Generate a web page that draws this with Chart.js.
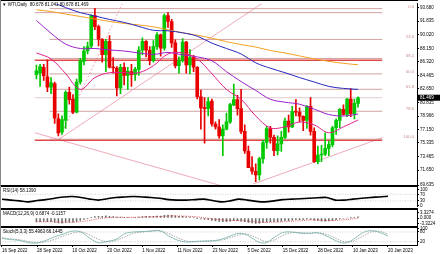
<!DOCTYPE html>
<html><head><meta charset="utf-8">
<script src="https://cdn.jsdelivr.net/npm/chart.js@4.4.0/dist/chart.umd.min.js"></script>
<style>
html,body{margin:0;padding:0;background:#fff;}
#wrap{position:relative;width:440px;height:254px;overflow:hidden;background:#fff;}
canvas{position:absolute;left:0;}
.sep{position:absolute;left:0;width:418px;background:#000;}
</style></head><body>
<div id="wrap">
<canvas id="cPrice" width="440" height="191" style="top:0px"></canvas>
<canvas id="cRsi" width="440" height="27" style="top:183px"></canvas>
<canvas id="cMacd" width="440" height="22" style="top:207px"></canvas>
<canvas id="cStoch" width="440" height="29" style="top:225px"></canvas>
<div class="sep" style="top:0px;height:1px;"></div>
<div class="sep" style="top:185px;height:1.5px;"></div>
<div class="sep" style="top:208px;height:1.5px;"></div>
<div class="sep" style="top:226px;height:1.5px;"></div>
<div class="sep" style="top:245px;height:1px;"></div>
<div style="position:absolute;left:0;top:0;width:1px;height:246px;background:#888;"></div>
</div>
<script>
// ---------------- DATA ----------------
const dateLabels = ['16 Sep 2022','28 Sep 2022','10 Oct 2022','20 Oct 2022','1 Nov 2022','11 Nov 2022','23 Nov 2022','5 Dec 2022','15 Dec 2022','28 Dec 2022','10 Jan 2023','20 Jan 2023'];
const dateTickBars = [0,8,16,24,32,40,48,56,64,72,80,88];

const openP  = [84.6,84.8,85.6,84.3,82.9,83.4,78.6,76.8,78.4,82.2,81.3,79.5,83.6,86.4,87.8,88.5,92.6,91.1,89.4,87.3,89.1,85.6,85.5,82.8,85.6,84.5,85.0,84.6,85.3,87.9,89.1,87.9,86.5,88.4,90.0,88.2,92.6,91.8,88.9,85.8,86.5,89.0,85.9,86.9,85.6,81.6,80.1,80.0,81.0,77.9,77.5,76.3,77.2,78.2,80.5,81.2,80.0,76.9,74.2,72.0,71.5,71.0,73.2,75.4,77.3,76.1,74.3,75.2,76.1,78.3,77.5,79.6,79.5,78.96,78.4,80.3,76.9,72.8,73.7,73.8,74.6,75.1,77.4,78.4,79.9,79.2,81.3,79.3,80.7];
const highP  = [85.9,86.0,86.0,86.6,84.2,83.6,79.3,79.0,82.4,82.9,81.9,84.0,86.8,88.4,89.0,92.7,93.6,91.3,89.5,89.4,89.9,86.9,85.7,86.0,86.2,85.6,86.0,85.6,88.4,89.6,89.2,88.4,89.2,90.3,90.1,92.8,93.0,92.1,89.3,87.0,89.5,89.1,88.0,87.2,85.7,82.5,81.5,81.5,81.3,78.2,78.5,77.8,79.4,80.7,83.3,81.8,82.6,77.8,74.9,73.5,72.5,73.4,75.7,77.6,77.6,76.4,76.3,76.9,78.7,79.1,80.3,81.2,80.1,79.0,80.4,81.5,77.4,74.9,75.0,76.7,75.6,77.6,78.6,80.0,80.5,81.4,82.7,81.3,81.6];
const lowP   = [84.0,83.0,83.8,82.3,82.0,78.0,76.3,76.5,77.3,80.6,79.3,79.4,83.3,85.9,87.4,88.2,90.7,88.5,86.3,85.0,85.5,84.8,81.7,82.0,83.2,82.6,83.0,83.8,84.5,87.3,87.0,85.9,86.3,88.0,87.1,87.9,91.0,88.3,85.5,84.8,86.3,84.8,84.7,85.0,81.3,77.2,75.3,79.0,77.6,77.2,76.0,73.6,77.1,78.0,80.4,79.1,76.6,73.9,72.1,71.1,70.1,70.3,72.6,74.6,75.3,73.6,73.7,74.2,75.9,76.8,77.4,79.0,78.2,77.0,77.3,76.4,72.7,72.5,72.8,73.6,73.6,74.8,76.5,77.4,79.1,78.9,78.9,78.6,80.2];
const closeP = [85.1,85.7,84.45,82.9,83.5,78.7,76.7,78.5,82.2,81.2,79.5,83.6,86.5,87.8,88.4,92.6,91.1,89.4,87.3,89.1,85.6,85.5,82.8,85.6,84.5,85.05,84.6,85.3,87.9,89.1,87.9,86.5,88.4,90.0,88.2,92.6,91.8,88.9,85.8,86.5,89.0,85.9,86.9,85.6,81.6,80.1,80.0,80.95,77.9,77.5,76.3,77.2,78.2,80.55,81.2,80.0,76.9,74.25,72.0,71.5,71.0,73.2,75.4,77.3,76.1,74.3,75.2,76.1,78.3,77.5,79.6,79.5,78.96,78.4,80.26,76.9,72.8,73.7,73.8,74.6,75.1,77.4,78.4,79.9,79.2,81.3,79.3,80.7,81.469];

// moving averages read every 4 bars
const maBars    = [0,4,8,12,16,20,24,28,32,36,40,44,48,52,56,60,64,68,72,76,80,84,88];
const maOrange  = [93.39,93.15,92.81,92.48,92.14,91.81,91.54,91.34,91.08,90.67,90.27,89.94,89.54,89.07,88.67,88.34,87.87,87.54,87.13,86.73,86.40,86.13,85.93];
const maBlue    = [95.0,94.48,93.68,93.01,92.55,92.08,91.68,91.14,90.61,90.54,90.27,89.81,88.87,88.14,87.40,86.20,85.47,84.86,84.20,83.60,83.00,82.73,82.59];
const maPurple  = [91.94,90.21,88.74,88.14,88.14,87.94,87.80,87.54,87.34,87.60,87.27,87.00,86.47,85.00,83.66,82.46,81.26,80.86,80.59,79.92,79.19,78.99,79.25];
const maMagenta = [87.54,86.73,84.73,82.59,84.20,84.86,84.86,84.86,85.80,87.40,87.54,86.73,84.73,82.59,81.26,78.99,77.38,77.52,78.18,77.78,76.72,77.52,78.45];

// Fibonacci retracement
const fibStartBar = 3.6;
const fibLabels = ['0.0','23.6','38.2','50.0','61.8','78.6','100.0'];
const fibPrices = [93.55,89.37,86.79,84.70,82.61,79.63,75.85];
// horizontal lines
const redLevels  = [86.55,75.70];
const thinLevels = [93.00];
const lastPrice  = 81.469;
// trend lines [bar, price] pairs
const trendUp1   = [[6.2,75.85],[62,94.35]];
const trendSteep = [[6.2,75.85],[23.6,94.35]];
const trendDown  = [[-0.46,76.72],[57,68.63]];
const trendUp2   = [[59.3,69.77],[94.62,76.05]];

const priceTicks = [93.680,91.835,90.020,88.150,86.320,84.465,82.650,80.835,78.966,77.150,75.335,73.465,71.650,69.635];
const priceTickLabels = ['93.680','91.835','90.020','88.150','86.320','84.465','82.650','80.835','78.966','77.150','75.335','73.465','71.650','69.635'];

// RSI(14), every 2 bars
const oscBars = [0,2,4,6,8,10,12,14,16,18,20,22,24,26,28,30,32,34,36,38,40,42,44,46,48,50,52,54,56,58,60,62,64,66,68,70,72,74,76,78,80,82,84,86,88];
const rsiVals = [40.5,35,30,24,32,38,46,54,57,51,41,35,43,51,54,57,54,51,46,38,35,35,38,41,32,24,30,41,35,27,24,30,38,41,43,46,49,51,35,35,41,46,51,54,58.139];
const rsiLevels = [70,30];
const rsiTicks = [100,70,30,0];

// MACD(12,26,9) per bar
const macdMain = [-2.4,-2.2,-2.1,-2.2,-2.2,-2.7,-3.1,-3.2,-2.8,-2.6,-2.6,
 -2.1,-1.5,-0.9,-0.4,0.4,0.9,1.1,1.1,1.3,1.0,
 0.8,0.5,0.5,0.4,0.4,0.3,0.4,0.6,0.9,1.0,0.9,
 1.0,1.2,1.2,1.6,1.8,1.7,1.3,1.0,1.0,
 0.7,0.6,0.4,-0.1,-0.6,-0.9,-1.1,-1.5,-1.8,-2.1,
 -2.2,-2.2,-2.0,-1.7,-1.6,-1.9,-2.3,-2.8,-3.1,-3.3,
 -3.2,-2.9,-2.5,-2.3,-2.3,-2.2,-2.0,-1.7,-1.6,-1.3,
 -1.1,-1.0,-0.9,-0.7,-0.9,-1.4,-1.7,-1.9,-1.9,-1.8,
 -1.5,-1.1,-0.6,-0.3,0.0,0.1,0.4,0.6874];
const macdSignal = [-2.3,-2.3,-2.3,-2.3,-2.3,-2.4,-2.5,-2.6,-2.6,-2.6,-2.6,
 -2.5,-2.3,-2.0,-1.7,-1.3,-0.9,-0.5,-0.2,0.1,0.3,
 0.4,0.4,0.4,0.4,0.4,0.4,0.4,0.5,0.6,0.7,0.8,
 0.8,0.9,0.9,1.0,1.2,1.3,1.3,1.2,1.2,
 1.1,1.0,0.9,0.7,0.4,0.1,-0.2,-0.5,-0.7,-1.0,
 -1.2,-1.4,-1.5,-1.6,-1.6,-1.6,-1.8,-2.0,-2.2,-2.4,
 -2.6,-2.7,-2.7,-2.6,-2.6,-2.5,-2.4,-2.3,-2.2,-2.0,
 -1.8,-1.7,-1.5,-1.3,-1.2,-1.2,-1.3,-1.4,-1.5,-1.6,
 -1.6,-1.5,-1.3,-1.1,-0.9,-0.7,-0.4,-0.1157];
const macdTicks = [3.3274,0,-3.3224];
const macdTickLabels = ['3.3274','0.000','-3.3224'];

// Stochastic(5,3,3), every 2 bars
const stochMain = [40,33,28,14,12,28,50,68,85,80,42,14,22,35,70,80,82,86,88,55,30,18,22,24,26,35,55,72,60,25,12,45,76,80,72,72,75,55,28,12,32,72,88,78,55.4963];
const stochSignal = [45,38,32,22,15,20,35,55,72,80,62,35,20,28,50,72,80,84,86,70,45,25,20,23,25,30,45,62,66,45,22,30,58,76,76,72,74,65,42,20,22,50,78,84,66.1445];
const stochLevels = [80,20];
const stochTicks = [100,80,20];

// ---------------- RENDER ----------------
const X_MIN = -0.456, X_MAX = 94.62;
const FONT = {family:'Liberation Sans, Arial, sans-serif', size:4.5};
const GREEN = '#00c800', RED = '#e80000';
const FIBC = '#c58a8a';
const idx = openP.map((_, i) => i);
const upColor = (i) => closeP[i] >= openP[i] ? GREEN : RED;

function textPlugin(items){
  return { id:'txt'+Math.random(), afterDraw(chart){
    const ctx = chart.ctx; ctx.save();
    items.forEach(it => {
      const t = typeof it === 'function' ? it(chart) : it;
      if (t.box){ ctx.fillStyle = t.box; ctx.fillRect(t.bx, t.by, t.bw, t.bh); }
      ctx.font = (t.size||4.5) + 'px ' + FONT.family;
      ctx.fillStyle = t.color || '#000';
      ctx.textAlign = t.align || 'left';
      ctx.textBaseline = 'middle';
      ctx.fillText(t.text, t.x, t.y);
    });
    ctx.restore();
  }};
}
function yAxis(min, max, ticks, labels, extra){
  return Object.assign({
    type:'linear', position:'right', min, max,
    afterFit(s){ s.width = 23; },
    afterBuildTicks(s){ s.ticks = ticks.map(v => ({value:v})); },
    border:{display:true, color:'#000', width:1},
    grid:{display:true, drawOnChartArea:false, drawTicks:true, tickLength:2, color:'#000'},
    ticks:{font:FONT, color:'#000', padding:1, autoSkip:false,
      callback:(v, i) => labels ? labels[i] : String(v)}
  }, extra||{});
}
function xAxis(show){
  const a = {type:'linear', min:X_MIN, max:X_MAX, display:show};
  if (show){
    Object.assign(a, {
      position:'bottom',
      afterFit(s){ s.height = 9; },
      afterBuildTicks(s){ s.ticks = dateTickBars.map(v => ({value:v})); },
      border:{display:true, color:'#000', width:1},
      grid:{display:true, drawOnChartArea:false, drawTicks:true, tickLength:2, color:'#000'},
      ticks:{font:FONT, color:'#000', padding:1, autoSkip:false, maxRotation:0, align:'start',
        callback:(v) => { const k = dateTickBars.indexOf(v); return k >= 0 ? dateLabels[k] : ''; }}
    });
  }
  return a;
}
const line = (data, color, width, dash, extra) => Object.assign({
  type:'line', data, borderColor:color, borderWidth:width, borderDash:dash||[],
  pointRadius:0, fill:false, tension:0
}, extra||{});
const pts2 = (pairs) => pairs.map(p => ({x:p[0], y:p[1]}));
const common = (padTop, padBottom) => ({
  responsive:false, animation:false, devicePixelRatio:1, events:[],
  layout:{padding:{top:padTop, bottom:padBottom, left:0, right:0}},
  plugins:{legend:{display:false}, tooltip:{enabled:false}}
});

// price chart
const priceDatasets = [
  line(maBars.map((b,i)=>({x:b,y:maMagenta[i]})), '#e0208c', 1, [], {tension:0.35}),
  line(maBars.map((b,i)=>({x:b,y:maPurple[i]})), '#9a20c8', 1, [], {tension:0.35}),
  line(maBars.map((b,i)=>({x:b,y:maBlue[i]})), '#2828c0', 1, [], {tension:0.35}),
  line(maBars.map((b,i)=>({x:b,y:maOrange[i]})), '#f5a020', 1, [], {tension:0.35}),
  {type:'bar', data: idx.map(i => ({x:i, y:[openP[i], closeP[i]]})), grouped:false,
   barThickness:3, maxBarThickness:3, minBarLength:1, borderWidth:0,
   backgroundColor: c => upColor(c.dataIndex)},
  {type:'bar', data: idx.map(i => ({x:i, y:[lowP[i], highP[i]]})), grouped:false,
   barThickness:1, maxBarThickness:1, borderWidth:0,
   backgroundColor: c => upColor(c.dataIndex)},
];
fibPrices.forEach(p => priceDatasets.push(line([{x:fibStartBar,y:p},{x:X_MAX,y:p}], FIBC, 0.8)));
redLevels.forEach(p => priceDatasets.push(line([{x:X_MIN,y:p},{x:X_MAX,y:p}], '#e04848', 1.3)));
thinLevels.forEach(p => priceDatasets.push(line([{x:X_MIN,y:p},{x:X_MAX,y:p}], FIBC, 0.8)));
priceDatasets.push(line([{x:X_MIN,y:lastPrice},{x:X_MAX,y:lastPrice}], '#d8c0c0', 0.8));
priceDatasets.push(line(pts2(trendUp1), '#eea0b0', 0.9));
priceDatasets.push(line(pts2(trendSteep), '#eea0b0', 0.9, [2,2]));
priceDatasets.push(line(pts2(trendDown), '#eea0b0', 0.9));
priceDatasets.push(line(pts2(trendUp2), '#eea0b0', 0.9));

const priceTexts = [
  {text:'\u25BC WTI,Daily  80.678 81.041 80.678 81.469', x:2, y:4.5, color:'#000'},
  ...fibPrices.map((p,i) => (ch) => ({text:fibLabels[i], x:414, y:ch.scales.y.getPixelForValue(p)-2.2, color:FIBC, align:'right', size:4.2})),
  (ch) => { const y = ch.scales.y.getPixelForValue(lastPrice);
    return {text:'81.469', x:420, y:y, color:'#fff', box:'#000', bx:418, by:y-3, bw:22, bh:6}; }
];
new Chart(document.getElementById('cPrice'), {
  type:'bar', data:{datasets:priceDatasets},
  options: Object.assign(common(1, 6), {
    scales:{ x:xAxis(false), y:yAxis(69.635, 94.214, priceTicks, priceTickLabels) }
  }),
  plugins:[textPlugin(priceTexts)]
});

// RSI (pane range chosen so 100 and 0 sit just inside the pane edges)
new Chart(document.getElementById('cRsi'), {
  type:'line',
  data:{datasets:[
    line(oscBars.map((b,i)=>({x:b,y:rsiVals[i]})), '#000', 1.6, [], {tension:0.3}),
    ...rsiLevels.map(l => line([{x:X_MIN,y:l},{x:X_MAX,y:l}], '#b0b0b0', 0.6, [1,1.5]))
  ]},
  options: Object.assign(common(3, 1), {
    scales:{ x:xAxis(false), y:yAxis(-2.7, 116.2, rsiTicks, null) }
  }),
  plugins:[textPlugin([{text:'RSI(14) 58.1390', x:3, y:8, color:'#000'}])]
});

// MACD
new Chart(document.getElementById('cMacd'), {
  type:'bar',
  data:{datasets:[
    line(idx.map(i=>({x:i,y:macdSignal[i]})), '#e03030', 0.8, [1,1.2], {tension:0.3}),
    {type:'bar', data: idx.map(i => ({x:i, y:macdMain[i]})), grouped:false,
     barThickness:1, maxBarThickness:0.9, borderWidth:0, backgroundColor:'#6e6e6e'}
  ]},
  options: Object.assign(common(3, 3), {
    scales:{ x:xAxis(false), y:yAxis(-4.5, 4.5, macdTicks, macdTickLabels) }
  }),
  plugins:[textPlugin([{text:'MACD(12,26,9) 0.6874 -0.1157', x:3, y:7, color:'#000'}])]
});

// Stochastic
new Chart(document.getElementById('cStoch'), {
  type:'line',
  data:{datasets:[
    line(oscBars.map((b,i)=>({x:b,y:stochMain[i]})), '#70b0a8', 0.8, [], {tension:0.35}),
    line(oscBars.map((b,i)=>({x:b,y:stochSignal[i]})), '#909090', 0.8, [1.5,1.2], {tension:0.35}),
    ...stochLevels.map(l => line([{x:X_MIN,y:l},{x:X_MAX,y:l}], '#b0b0b0', 0.6, [1,1.5]))
  ]},
  options: Object.assign(common(3, 0), {
    scales:{ x:xAxis(true), y:yAxis(0, 100, stochTicks, null) }
  }),
  plugins:[textPlugin([{text:'Stoch(5,3,3) 55.4963 66.1445', x:3, y:7, color:'#000'}])]
});
</script>
</body></html>
